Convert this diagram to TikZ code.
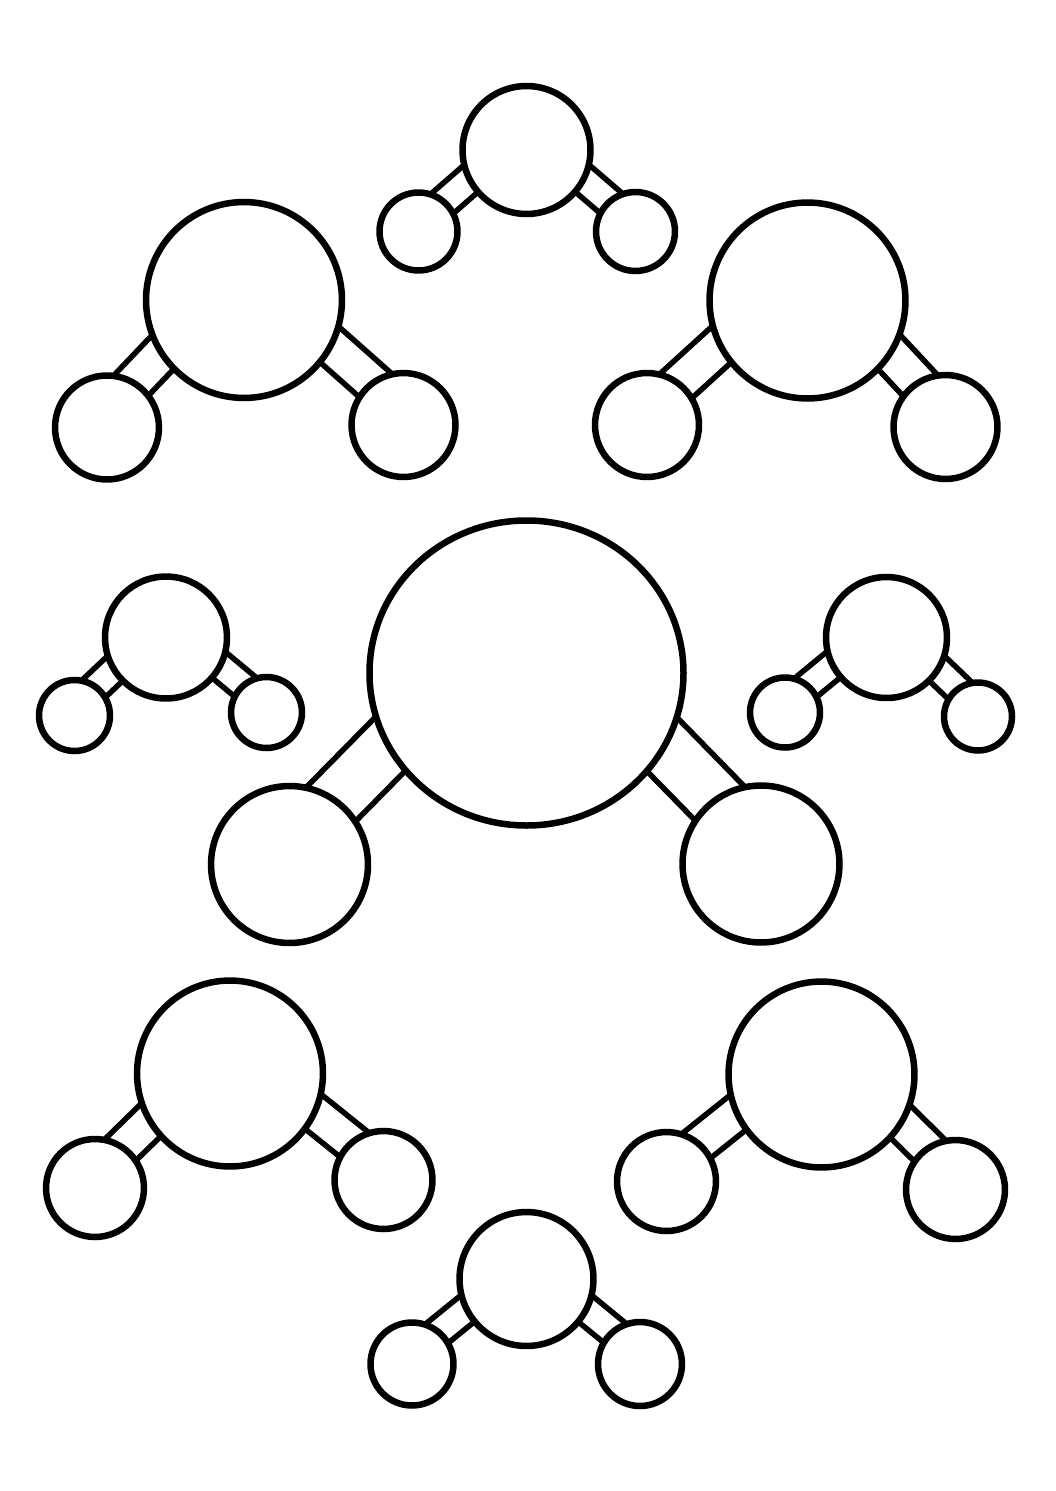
\documentclass[tikz,border=0pt]{standalone}
\usetikzlibrary{calc,backgrounds,shapes.geometric}
\tikzset{
  atom/.style={circle,draw=black,fill=white,line width=0.13cm,inner sep=0pt,minimum size=#1*0.04cm},
  bigatom/.style={ellipse,draw=black,fill=white,line width=0.13cm,inner sep=0pt},
  bondln/.style={draw=black,line width=0.11cm}
}
% #1 big atom, #2 small atom, #3 outer offset (px), #4 inner offset (px), #5 tilt (deg)
\newcommand{\leftbond}[5]{%
  \coordinate (#2m) at ($(#1)!0.6!(#2)$);
  \coordinate (#2b) at ($(#2m)!1!#5:(#1)$);
  \coordinate (#2s) at ($(#2m)!1!#5:(#2)$);
  \draw[bondln] ($(#2b)!#3*0.02cm!-90:(#2s)$) -- ($(#2s)!#3*0.02cm!90:(#2b)$);
  \draw[bondln] ($(#2b)!#4*0.02cm!90:(#2s)$) -- ($(#2s)!#4*0.02cm!-90:(#2b)$);
}
\newcommand{\rightbond}[5]{%
  \coordinate (#2m) at ($(#1)!0.6!(#2)$);
  \coordinate (#2b) at ($(#2m)!1!-#5:(#1)$);
  \coordinate (#2s) at ($(#2m)!1!-#5:(#2)$);
  \draw[bondln] ($(#2b)!#3*0.02cm!90:(#2s)$) -- ($(#2s)!#3*0.02cm!-90:(#2b)$);
  \draw[bondln] ($(#2b)!#4*0.02cm!-90:(#2s)$) -- ($(#2s)!#4*0.02cm!90:(#2b)$);
}
\newcommand{\molbonds}[6]{\leftbond{#1}{#2}{#4}{#5}{#6}\rightbond{#1}{#3}{#4}{#5}{#6}}
\begin{document}
\begin{tikzpicture}[x=0.02cm,y=-0.02cm]
\useasboundingbox (0,0) rectangle (1055,1491);
% top centre
\node[atom=64]   (b1) at (526.5,150) {};
\node[atom=39]   (l1) at (418.5,231.5) {};
\node[atom=39.5] (r1) at (635.5,231.5) {};
% top left
\node[atom=98] (b2) at (244,300) {};
\node[atom=52] (l2) at (107,427.5) {};
\node[atom=52] (r2) at (403.5,425) {};
% top right
\node[atom=98] (b3) at (807.5,300.5) {};
\node[atom=52] (l3) at (647,425) {};
\node[atom=52] (r3) at (945.5,427) {};
% middle left
\node[atom=61]   (b4) at (166,637.5) {};
\node[atom=35.5] (l4) at (74.5,715.5) {};
\node[atom=35.5] (r4) at (266.5,712.5) {};
% centre
\node[bigatom,minimum width=314*0.02cm,minimum height=305*0.02cm] (b5) at (526.5,673) {};
\node[atom=78.5] (l5) at (289.5,864.5) {};
\node[atom=78.5] (r5) at (761,864) {};
% middle right
\node[atom=60.5] (b6) at (886.5,637.5) {};
\node[atom=35]   (l6) at (785,712.5) {};
\node[atom=34]   (r6) at (978,716.5) {};
% bottom left
\node[atom=93] (b7) at (230,1073.5) {};
\node[atom=49] (l7) at (95,1188) {};
\node[atom=49] (r7) at (383.5,1180) {};
% bottom right
\node[atom=93]   (b8) at (821.5,1074.5) {};
\node[atom=49.5] (l8) at (666.5,1181.5) {};
\node[atom=49.5] (r8) at (955.5,1189.5) {};
% bottom centre
\node[atom=67]   (b9) at (526.5,1279) {};
\node[atom=41.5] (l9) at (412,1364) {};
\node[atom=42]   (r9) at (640,1364) {};
\begin{scope}[on background layer]
  \molbonds{b1}{l1}{r1}{24}{5.5}{4}
  \molbonds{b2}{l2}{r2}{35.5}{3.5}{3.5}
  \molbonds{b3}{l3}{r3}{35.5}{4}{4.5}
  \molbonds{b4}{l4}{r4}{23}{5.5}{3}
  \molbonds{b5}{l5}{r5}{56}{3}{6.5}
  \molbonds{b6}{l6}{r6}{23}{5.5}{3}
  \molbonds{b7}{l7}{r7}{33}{4}{4}
  \molbonds{b8}{l8}{r8}{33}{4}{4}
  \molbonds{b9}{l9}{r9}{25}{4}{2.5}
\end{scope}
\end{tikzpicture}
\end{document}
